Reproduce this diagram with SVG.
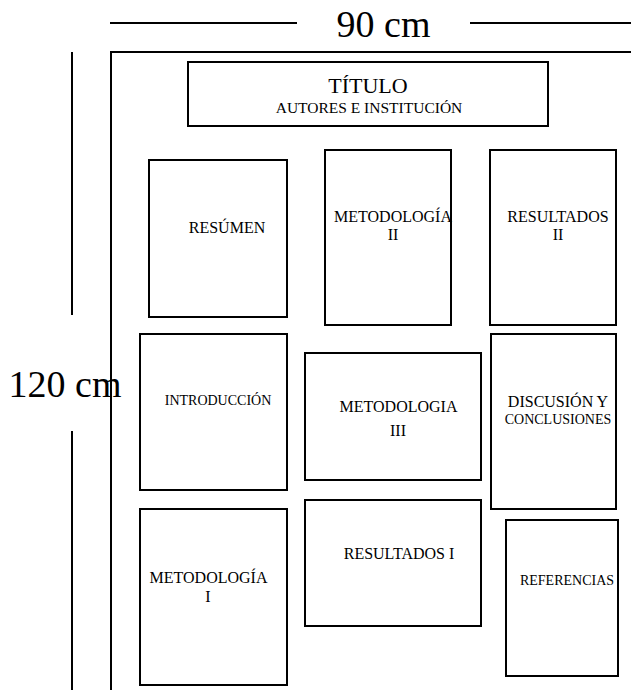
<svg xmlns="http://www.w3.org/2000/svg" width="631" height="690" viewBox="0 0 631 690" font-family="'Liberation Serif', 'Times New Roman', 'DejaVu Serif', serif">
<style>
.box{fill:#fff;stroke:#000;stroke-width:2}
.ln{stroke:#000;stroke-width:2;fill:none}
text{font-family:'Liberation Serif', 'Times New Roman', 'DejaVu Serif', serif;fill:#000;text-anchor:middle}
.big{font-size:38px}
.t16{font-size:16px}
.t14{font-size:14px}
</style>
<rect width="631" height="690" fill="#fff"/>
<g id="dimensions">
<line class="ln" x1="110" y1="23" x2="297" y2="23"/>
<line class="ln" x1="470" y1="23" x2="631" y2="23"/>
<text class="big" x="383.5" y="37">90 cm</text>
<line class="ln" x1="72" y1="52" x2="72" y2="315"/>
<line class="ln" x1="72" y1="431" x2="72" y2="690"/>
<text class="big" x="65" y="397">120 cm</text>
</g>
<g id="frame">
<polyline class="ln" points="111,690 111,52 631,52"/>
</g>
<g id="titulo">
<rect class="box" x="188" y="62" width="360" height="64"/>
<text x="368" y="93" style="font-size:22px">TÍTULO</text>
<text x="369" y="113" style="font-size:15.5px">AUTORES E INSTITUCIÓN</text>
</g>
<g id="resumen">
<rect class="box" x="149" y="160" width="138" height="157"/>
<text class="t16" x="227" y="233">RESÚMEN</text>
</g>
<g id="metodologia2">
<rect class="box" x="325" y="150" width="126" height="175"/>
<text class="t16" x="393" y="222">METODOLOGÍA</text>
<text class="t16" x="393" y="240">II</text>
</g>
<g id="resultados2">
<rect class="box" x="490" y="150" width="126" height="175"/>
<text class="t16" x="558" y="222">RESULTADOS</text>
<text class="t16" x="558" y="240">II</text>
</g>
<g id="introduccion">
<rect class="box" x="140" y="334" width="147" height="156"/>
<text class="t14" x="218" y="405">INTRODUCCIÓN</text>
</g>
<g id="metodologia3">
<rect class="box" x="305" y="353" width="176" height="127"/>
<text class="t16" x="398.5" y="412">METODOLOGIA</text>
<text class="t16" x="398" y="436">III</text>
</g>
<g id="discusion">
<rect class="box" x="491" y="334" width="125" height="175"/>
<text class="t16" x="558" y="407">DISCUSIÓN Y</text>
<text class="t14" x="558" y="424">CONCLUSIONES</text>
</g>
<g id="metodologia1">
<rect class="box" x="140" y="509" width="147" height="176"/>
<text class="t16" x="208.5" y="583">METODOLOGÍA</text>
<text class="t16" x="208" y="602">I</text>
</g>
<g id="resultados1">
<rect class="box" x="305" y="500" width="176" height="126"/>
<text class="t16" x="399" y="559">RESULTADOS I</text>
</g>
<g id="referencias">
<rect class="box" x="506" y="520" width="112" height="156"/>
<text class="t14" x="567" y="585">REFERENCIAS</text>
</g>
</svg>
